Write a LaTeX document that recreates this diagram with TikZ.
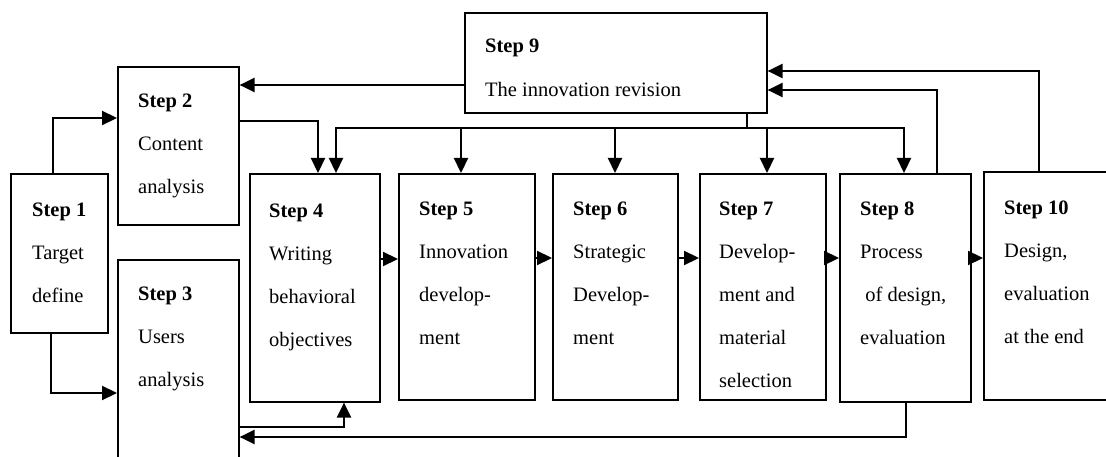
\documentclass[tikz,border=0pt]{standalone}
\usepackage{fontspec}
\setmainfont{Liberation Serif}
\usetikzlibrary{arrows.meta}

\begin{document}
\begin{tikzpicture}[x=1pt,y=-1pt,
  stepbox/.style={draw, line width=1.6pt, rectangle, anchor=north west, inner sep=0pt},
  steptext/.style={anchor=base west, align=left, inner sep=0pt,
    font=\fontsize{20.5}{43}\selectfont},
  link/.style={line width=2.2pt},
  arr/.style={line width=2.2pt, -{Triangle[length=15pt,width=14pt]}}]

\clip (0,0) rectangle (1106,457);
\fill[white] (0,0) rectangle (1106,457);

% boxes
\node[stepbox, minimum width=97pt,  minimum height=159pt] (s1)  at (10,173)  {};
\node[stepbox, minimum width=121pt, minimum height=158pt] (s2)  at (117,66)  {};
\node[stepbox, minimum width=121pt, minimum height=260pt] (s3)  at (117,259) {};
\node[stepbox, minimum width=130pt, minimum height=228pt] (s4)  at (249,173) {};
\node[stepbox, minimum width=136pt, minimum height=226pt] (s5)  at (398,173) {};
\node[stepbox, minimum width=125pt, minimum height=226pt] (s6)  at (552,173) {};
\node[stepbox, minimum width=126pt, minimum height=226pt] (s7)  at (699,173) {};
\node[stepbox, minimum width=131pt, minimum height=228pt] (s8)  at (839,173) {};
\node[stepbox, minimum width=302pt, minimum height=100pt] (s9)  at (464,12)  {};
\node[stepbox, minimum width=160pt, minimum height=228pt] (s10) at (983,171) {};

% texts (anchored at the baseline of their last line)
\node[steptext] (t1)  at (32,302)  {\textbf{Step 1}\\Target\\define};
\node[steptext] (t2)  at (138,194) {\textbf{Step 2}\\Content\\analysis};
\node[steptext] (t3)  at (138,386) {\textbf{Step 3}\\Users\\analysis};
\node[steptext] (t4)  at (269,346) {\textbf{Step 4}\\Writing\\behavioral\\objectives};
\node[steptext] (t5)  at (419,344) {\textbf{Step 5}\\Innovation\\develop-\\ment};
\node[steptext] (t6)  at (573,344) {\textbf{Step 6}\\Strategic\\Develop-\\ment};
\node[steptext] (t7)  at (719,387) {\textbf{Step 7}\\Develop-\\ment and\\material\\selection};
\node[steptext] (t8)  at (860,344) {\textbf{Step 8}\\Process\\\ of design,\\evaluation};
\node[steptext, font=\fontsize{20.5}{44}\selectfont] (t9) at (485,97) {\textbf{Step 9}\\The innovation revision};
\node[steptext] (t10) at (1004,343) {\textbf{Step 10}\\Design,\\evaluation\\at the end};

% feedback from the revision step
\draw[arr] (s9.west |- 0,85) -- (s2.east |- 0,85);

% step 1 feeds steps 2 and 3
\draw[arr] (s1.north -| 53,0) |- (s2.west |- 0,118);
\draw[arr] (s1.south -| 51,0) |- (s3.west |- 0,393);

% step 2 to step 4
\draw[arr] (s2.east |- 0,121) -| (s4.north -| 318,0);

% revision bus down to steps 4--8
\coordinate (bus) at (747,128);
\draw[link] (s9.south -| 747,0) -- (bus);
\draw[arr] (bus) -| (s4.north -| 336,0);
\draw[arr] (bus) -| (s8.north -| 904,0);
\draw[arr] (bus -| 461,0) -- (s5.north -| 461,0);
\draw[arr] (bus -| 615,0) -- (s6.north -| 615,0);
\draw[arr] (bus -| 767,0) -- (s7.north -| 767,0);

% steps 8 and 10 back to step 9
\draw[arr] (s8.north -| 937,0) |- (s9.east |- 0,90);
\draw[arr] (s10.north -| 1039,0) |- (s9.east |- 0,71);

% main chain
\draw[arr] (s4.east |- 0,259) -- (s5.west |- 0,259);
\draw[arr] (s5.east |- 0,258) -- (s6.west |- 0,258);
\draw[arr] (s6.east |- 0,258) -- (s7.west |- 0,258);
\draw[arr] (s7.east |- 0,258) -- (s8.west |- 0,258);
\draw[arr] (s8.east |- 0,258) -- (s10.west |- 0,258);

% lower loops
\draw[arr] (s3.east |- 0,427) -| (s4.south -| 344,0);
\draw[arr] (s8.south -| 906,0) |- (s3.east |- 0,437);
\end{tikzpicture}
\end{document}
